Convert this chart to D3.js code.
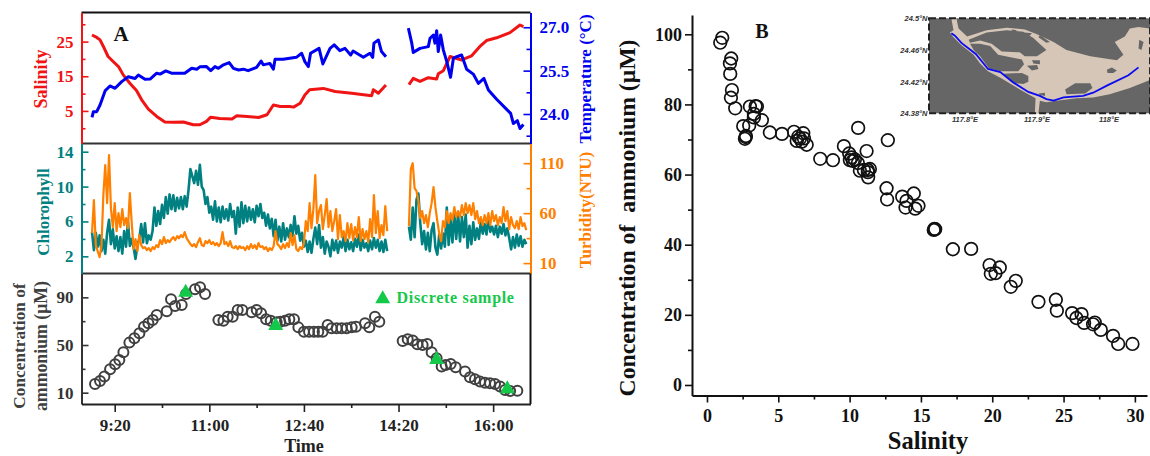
<!DOCTYPE html>
<html>
<head>
<meta charset="utf-8">
<script src="https://cdn.jsdelivr.net/npm/d3@7"></script>
<style>
body { margin: 0; background: #fff; }
text { font-family: "Liberation Serif", serif; font-weight: bold; }
</style>
</head>
<body>
<div class="chart"></div>
<script>
// panel A, minutes since midnight
const salTime = [536,541,544.5,548,553,558.6,564,569,576,583,588.5,595.6,604.4,613,622,632.6,643,650,657,661.5,671,684,689,700,712,721,727.7,735,745,749,756,761,766,780.5,793,810.5,831.6,833.4,838.7,846.7];
const salValue = [26.9,26.2,25.5,23.6,20.7,19.2,17.8,15.4,13,10.9,8.2,5.5,3.4,1.8,1.7,1.8,1,1,2,3.2,2.8,2.7,3.6,3.4,3.1,3.9,6.7,6.3,6.3,6.1,7.2,9.6,11.1,11.5,10.6,10.1,9.4,11.1,10.1,12.5];
const salTime2 = [871,875.6,882.7,891.5,900.3,902,907.4,914.4,926.7,937.3,946,953,963.7,977.8,988.4,992];
const salValue2 = [12.6,14.4,13.5,14.6,14.2,15.7,16.6,20.7,19.7,20.9,23.6,25.3,26.1,27.6,29.8,29.3];

const tempTime = [536,537.5,541,544.5,550,555,560.4,567.4,574.4,581.5,585,592,597.4,604.4,608,614,620,634,641.4,646.7,650,657,661.5,666,669.6,675,681,685.5,691,696,701,710,714.7,717,724,727.7,729.5,738,745,752,757.6,761,764.7,767,776,780,787.6,792,798,803.4,809.4,812,822.8,829.8,832.7,834,838.7,842,846.7];
const tempValue = [23.88,24.08,24.08,24.31,24.81,24.97,24.89,25.12,25.29,25.23,25.35,25.2,25.21,25.41,25.38,25.49,25.41,25.41,25.58,25.55,25.63,25.64,25.5,25.64,25.58,25.7,25.78,25.58,25.52,25.55,25.5,25.61,25.83,25.7,25.75,25.55,25.89,25.89,25.93,25.96,26.1,25.81,25.64,26.1,26.27,25.73,26.27,26.39,26.19,26.27,26.04,26.18,25.96,26.1,25.96,26.45,26.56,26.16,25.98];
const tempTime2 = [870.4,874,875.6,882.7,891.5,893.3,896.8,898.5,900.3,902,904.5,907.4,911,915,918,921.5,926.7,932,939,944.4,950.3,955,963.7,974.3,978.5,981.4,985.6,988.4,992];
const tempValue2 = [26.97,26.45,26.13,26.27,26.33,26.62,26.73,26.45,26.88,26.16,26.73,26.21,25.81,25.27,25.93,25.98,26.04,25.55,25.38,25.06,25.23,24.83,24.51,24.16,24.02,23.67,23.77,23.5,23.64];

// logger readings, one every 2 minutes
const loggerStart = 536;
const loggerStart2 = 871;
const chlValue = [4.8,2.7,4.7,3.1,4.4,2.6,3.9,2.3,4.7,6.2,3.4,5.1,2.9,4.3,2.6,4.2,2.3,4.9,3.1,6,3.2,4,3,1.7,3.3,4,5.7,3.6,5.8,3.5,4.4,3.9,4.9,7.6,5.5,7.2,5.7,7.9,6.4,8.8,6.9,9.1,7.4,9,7.2,8.7,7.5,8.8,7.4,8.9,7.7,9.6,12,11.2,10.4,11.8,10.2,12.5,10,9.6,8,8.8,7,7.7,6.2,8.3,6,7.6,5.9,7.7,6.3,7.4,6.1,8,6.5,7.2,4.6,7.6,5.4,8.2,5.8,7.8,6,7.6,6.2,7.4,5.9,7.8,6.6,8,6.4,7,5.5,6.8,5.2,6.3,4.3,6.2,3.8,5.4,3.7,5.8,3.9,5.2,4.2,5.6,4.3,6.6,4.6,5.5,3.8,4.7,3.1,3.8,2.5,3.7,2.4,4,5.3,3.4,5.6,3,4.2,2.3,3.7,3.1,2,3.9,2.7,3.8,2.4,3.7,3,4.2,2.6,3.9,2.8,3.6,2.6,4,3.1,4.5,2.7,3.9,3,3.5,2.6,3.8,2.8,4.1,3,3.9,2.6,3.7,2.5,3.9,2.6];
const chlValue2 = [5.4,3.9,7.6,4.2,8.5,9.2,5.8,3.4,4.9,2.8,4.7,2.6,5,5.8,3,2.2,4.5,2.9,4.6,3.1,7.6,3.3,6.3,3.6,7,4,6.9,3.7,6.5,4.2,6.8,3,5.5,3.4,5.9,3.9,5.2,4,6,4.6,5.7,4.5,6.4,4.8,5.4,4.5,5.5,4.2,5.4,4.6,5.7,4.4,5.2,4.1,2.8,4.2,3,4.5,3.2,4.3,3.1,3.9,3.4];
const turbValue = [40,73,28,22,16,27,78,108,70,118,65,46,70,42,60,46,64,48,55,45,80,50,24,34,22,38,28,25,26,23,25,22,26,24,28,26,33,29,36,30,33,31,34,36,33,37,35,38,36,41,35,32,29,27,29,26,31,35,28,27,32,30,33,29,31,28,30,27,30,41,29,31,27,32,26,25,27,24,27,25,26,23,27,24,29,25,28,24,30,26,27,24,26,22,25,23,27,42,29,27,24,29,25,30,26,40,28,38,24,22,26,24,30,52,42,70,45,64,98,50,62,68,44,58,74,46,62,42,52,64,34,58,36,42,32,50,35,49,33,46,36,56,32,44,34,42,31,54,36,78,40,62,35,48,38,67,42];
const turbValue2 = [47,104,110,85,82,72,55,62,50,58,46,60,70,86,66,52,40,32,52,46,62,50,60,53,66,56,62,56,68,58,70,60,68,58,70,54,62,50,56,48,58,50,60,48,62,52,58,48,56,50,66,52,62,44,56,48,45,52,44,56,47,50,43];

const ammTime = [539.2,544.5,549.1,555.1,560.4,564.9,569.2,575.5,580.8,586.1,591,595.6,600.2,604.4,615,619.5,623.8,630.8,635.4,644.9,650.2,655.5,669.6,674.9,679.4,684.7,690,694.9,704.8,710.1,714.7,720,724.9,731.2,735,740,744.6,749.5,754.1,760,765.4,770.6,775.2,779.8,785.1,789.3,794.6,799.9,805.2,810.5,815,824.6,829.1,835.1,839.7,864.4,869.7,875,879.9,885.5,890.4,895,900.3,905.6,909.8,915.1,920.4,930.3,935.5,940.8,946.1,951.4,956.7,962,967.3,972.6,978,985.6];
const ammValue = [17.3,19.8,23.5,29.6,33.8,37.4,43.9,52,55.6,59.8,65.4,68.2,71,75.2,78.3,88.3,82.7,83.6,92.8,96.7,98.4,92.8,71,70.4,73.8,73.8,79.4,79.4,77.4,79.4,76.6,71.6,70.4,69,69.6,70.4,71.6,71.6,64.8,61.2,61.2,61.2,61.2,61.2,66.8,64,64,64,64,64.8,65.4,68.2,64.8,73.8,69.6,53.4,54.8,53.7,50.6,50,50.9,43.9,38.8,31.9,33.3,34.1,31.3,27.7,22.9,21.2,19.3,18.4,17.9,17.3,15.1,12.3,11.5,11.7];
const sampleTime = [635,730.2,900.3,975];
const sampleValue = [94.2,66.2,37.7,13.1];

const timeTicks = [560,660,760,860,960];
const timeMinor = [610,710,810,910];

// panel B
const bSalinity = [1.07,0.93,1.7,1.61,1.63,1.75,1.68,1.98,3.01,3.41,3.5,3.29,3.29,3.85,2.54,2.96,2.73,2.66,2.71,4.41,5.26,6.1,6.75,6.4,6.29,6.52,6.8,6.64,6.99,7.94,8.83,9.6,10.6,11.19,9.97,10.14,10.37,10.02,10.23,10.58,10.72,11,11.28,11.42,11.28,11.3,12.59,12.63,13.69,14.5,13.99,13.92,14.6,14.83,12.68,15.9,15.95,16,17.24,18.52,19.81,20.53,19.9,20.23,21.65,21.3,23.24,24.46,24.53,25.6,26.26,25.9,26.44,27.19,27.07,27.61,28.47,28.83,29.83];
const bAmmonium = [99,97.6,93.1,91.7,88.7,84.1,81.9,78.9,79.4,79.5,79.4,77.3,76.3,75.5,73.8,74,71,70.2,70.7,72,71.6,72.2,71.8,70.8,69.6,70.3,70.3,69.4,68.5,64.5,64.1,68.1,73.3,66.7,66,64.9,64.3,64.1,63.9,63.3,61.1,61.3,61.3,61.6,60.7,59.2,56.1,52.9,53.7,54.6,52.5,50.6,50.3,51.1,69.8,44.2,44.5,44.4,38.7,38.8,34.2,33.5,31.7,31.9,29.7,28,23.7,24.3,21.2,20.5,20.2,19.1,17.7,17.8,17.3,15.7,14,11.7,11.7];

// inset map, lon/lat
const bayOutline = [[117.781,24.5],[117.788,24.5],[117.791,24.487],[117.803,24.477],[117.83,24.485],[117.858,24.488],[117.883,24.486],[117.9,24.48],[117.923,24.47],[117.941,24.46],[117.974,24.452],[118.011,24.447],[118.02,24.454],[118.008,24.47],[118.022,24.477],[118.029,24.487],[118.041,24.489],[118.057,24.487],[118.057,24.422],[118.029,24.412],[118.001,24.404],[117.978,24.4],[117.955,24.399],[117.927,24.396],[117.913,24.394],[117.904,24.396],[117.902,24.38],[117.897,24.38],[117.898,24.399],[117.886,24.405],[117.867,24.415],[117.851,24.424],[117.832,24.433],[117.821,24.443],[117.812,24.454],[117.795,24.466],[117.784,24.476],[117.779,24.482],[117.784,24.485]];
const islands = [
  [[117.805,24.473],[117.83,24.482],[117.858,24.485],[117.881,24.483],[117.895,24.475],[117.913,24.46],[117.9,24.452],[117.883,24.452],[117.876,24.457],[117.851,24.458],[117.837,24.468],[117.821,24.472],[117.807,24.469]],
  [[117.807,24.468],[117.821,24.468],[117.835,24.465],[117.846,24.454],[117.879,24.448],[117.882,24.442],[117.874,24.433],[117.849,24.433],[117.833,24.437],[117.821,24.452],[117.812,24.46]],
  [[117.853,24.43],[117.879,24.431],[117.888,24.427],[117.888,24.42],[117.881,24.417],[117.869,24.418]],
  [[117.886,24.44],[117.9,24.441],[117.902,24.436],[117.893,24.434]],
  [[117.893,24.447],[117.904,24.447],[117.904,24.442],[117.895,24.443]],
  [[117.997,24.435],[118.004,24.438],[118.011,24.434],[118.006,24.431],[117.998,24.431]],
  [[117.939,24.41],[117.953,24.418],[117.974,24.418],[117.977,24.412],[117.967,24.405],[117.941,24.404]],
  [[117.902,24.405],[117.911,24.406],[117.911,24.402],[117.904,24.403]],
  [[117.883,24.482],[117.893,24.481],[117.89,24.478],[117.883,24.48]],
  [[117.904,24.479],[117.918,24.47],[117.913,24.469],[117.902,24.476]],
  [[117.865,24.486],[117.872,24.485],[117.871,24.484],[117.865,24.484]],
  [[118.042,24.473],[118.048,24.47],[118.045,24.46],[118.041,24.462]]
];
const routeLon = [117.781,117.786,117.795,117.815,117.832,117.849,117.867,117.888,117.904,117.913,117.923,117.937,117.964,117.978,117.997,118.027,118.041];
const routeLat = [24.481,24.478,24.469,24.455,24.436,24.432,24.419,24.407,24.402,24.398,24.396,24.4,24.402,24.406,24.415,24.428,24.438];
const mapLonTicks = [117.8,117.9,118];
const mapLatTicks = [24.38,24.42,24.46,24.5];

const red = "#f01414", blue = "#0000f0", teal = "#008080", orange = "#ff8000", dark = "#404040", green = "#14c84a";

const width = 1150, height = 456;
const svg = d3.select(".chart").append("svg").attr("width", width).attr("height", height).style("display", "block");

const left = 81.5, right = 530.5;
const x = d3.scaleLinear().domain([524.9, 999.5]).range([left, right]);
const salY = d3.scaleLinear().domain([-4.4, 33.4]).range([143.5, 12.5]);
const tempY = d3.scaleLinear().domain([22.98, 27.51]).range([143.5, 12.5]);
const chlY = d3.scaleLinear().domain([0.03, 14.94]).range([273.5, 143.5]);
const turbY = d3.scaleLinear().domain([-0.4, 129.7]).range([273.5, 143.5]);
const ammY = d3.scaleLinear().domain([0.5, 110]).range([404, 273.5]);
const bX = d3.scaleLinear().domain([-1.05, 30.85]).range([692, 1147]);
const bY = d3.scaleLinear().domain([-3, 105.5]).range([395.5, 15]);

function yAxis(side, scale, xPos, major, minor, color, size, padding, format) {
    const make = side == "left" ? d3.axisLeft : d3.axisRight;
    const g = svg.append("g").attr("transform", `translate(${xPos},0)`);
    g.call(make(scale).tickValues(major).tickSize(-7).tickSizeOuter(0).tickPadding(padding).tickFormat(format || (d => d)));
    g.append("g").call(make(scale).tickValues(minor).tickSize(-4).tickFormat(""))
        .select(".domain").remove();
    g.selectAll("path").attr("stroke", color).attr("stroke-width", 2);
    g.selectAll("line").attr("stroke", color).attr("stroke-width", 1.6);
    g.selectAll("text").attr("fill", color).style("font-family", "Liberation Serif")
        .style("font-weight", "bold").style("font-size", size + "px");
    return g;
}

function rotated(label, xPos, yPos, color, size) {
    svg.append("text").attr("transform", `translate(${xPos},${yPos}) rotate(-90)`)
        .attr("text-anchor", "middle").attr("fill", color).style("font-size", size + "px").text(label);
}

function drawLine(times, values, scale, color, w) {
    const line = d3.line().x(d => x(d[0])).y(d => scale(d[1]));
    svg.append("path").datum(times.map((t, i) => [t, values[i]])).attr("d", line)
        .attr("fill", "none").attr("stroke", color).attr("stroke-width", w).attr("stroke-linejoin", "round");
}

const logTimes = (start, vals) => vals.map((v, i) => start + i * 2);

// panel frames
[12.5, 143.5, 273.5].forEach((y0, i) => {
    svg.append("line").attr("x1", left).attr("x2", right).attr("y1", y0).attr("y2", y0)
        .attr("stroke", i == 0 ? "#111" : "#333").attr("stroke-width", 2);
});

drawLine(salTime, salValue, salY, red, 3);
drawLine(salTime2, salValue2, salY, red, 3);
drawLine(tempTime, tempValue, tempY, blue, 3);
drawLine(tempTime2, tempValue2, tempY, blue, 3);
drawLine(logTimes(loggerStart, chlValue), chlValue, chlY, teal, 2.6);
drawLine(logTimes(loggerStart2, chlValue2), chlValue2, chlY, teal, 2.6);
drawLine(logTimes(loggerStart, turbValue), turbValue, turbY, orange, 2.2);
drawLine(logTimes(loggerStart2, turbValue2), turbValue2, turbY, orange, 2.2);

yAxis("left", salY, left, [5, 15, 25], [0, 10, 20, 30], red, 17, 8);
yAxis("right", tempY, right, [24, 25.5, 27], [23.25, 24.75, 26.25], blue, 17, 9, d => d.toFixed(1));
yAxis("left", chlY, left, [2, 6, 10, 14], [4, 8, 12], teal, 17, 8);
yAxis("right", turbY, right, [10, 60, 110], [35, 85], orange, 17, 9);
yAxis("left", ammY, left, [10, 50, 90], [30, 70], "#333", 17, 8);
svg.append("line").attr("x1", right).attr("x2", right).attr("y1", 273.5).attr("y2", 404).attr("stroke", "#111").attr("stroke-width", 2);

// ammonium against time
svg.append("g").selectAll("circle").data(ammTime).enter().append("circle")
    .attr("cx", d => x(d)).attr("cy", (d, i) => ammY(ammValue[i])).attr("r", 5)
    .attr("fill", "none").attr("stroke", dark).attr("stroke-width", 2);

const triangle = d3.symbol().type(d3.symbolTriangle).size(97);
svg.append("g").selectAll("path").data(sampleTime).enter().append("path").attr("d", triangle)
    .attr("transform", (d, i) => `translate(${x(d)},${ammY(sampleValue[i])})`).attr("fill", green);
svg.append("path").attr("d", triangle).attr("transform", "translate(382.7,299)").attr("fill", green);
svg.append("text").attr("x", 396.5).attr("y", 303).attr("fill", green).style("font-size", "16px")
    .style("letter-spacing", "0.7px").text("Discrete sample");

const timeLabel = m => Math.floor(m / 60) + ":" + d3.format("02")(m % 60);
const timeAxis = svg.append("g").attr("transform", "translate(0,404)");
timeAxis.call(d3.axisBottom(x).tickValues(timeTicks).tickSize(8).tickSizeOuter(0).tickPadding(7).tickFormat(timeLabel));
timeAxis.append("g").call(d3.axisBottom(x).tickValues(timeMinor).tickSize(4).tickFormat("")).select(".domain").remove();
timeAxis.selectAll("path").attr("stroke", "#222").attr("stroke-width", 2);
timeAxis.selectAll("line").attr("stroke", "#222").attr("stroke-width", 1.6);
timeAxis.selectAll("text").attr("fill", "#222").style("font-family", "Liberation Serif")
    .style("font-weight", "bold").style("font-size", "17px");

svg.append("text").attr("x", 304).attr("y", 451.5).attr("text-anchor", "middle").attr("fill", "#222").style("font-size", "18px").text("Time");
svg.append("text").attr("x", 121).attr("y", 41).attr("text-anchor", "middle").attr("fill", "#111").style("font-size", "21px").text("A");

rotated("Salinity", 47, 79, red, 18);
rotated("Chlorophyll", 49, 212, teal, 17);
rotated("Temperature (°C)", 591, 79, blue, 17);
rotated("Turbidity(NTU)", 591, 210, orange, 17);
rotated("Concentration of", 25, 346, dark, 17.3);
rotated("ammonium (μM)", 47, 346, dark, 17.8);

// panel B
const bBottom = svg.append("g").attr("transform", "translate(0,395.5)");
bBottom.call(d3.axisBottom(bX).tickValues([0, 5, 10, 15, 20, 25, 30]).tickSize(7).tickSizeOuter(0).tickPadding(7));
bBottom.append("g").call(d3.axisBottom(bX).tickValues([2.5, 7.5, 12.5, 17.5, 22.5, 27.5]).tickSize(4).tickFormat("")).select(".domain").remove();
const bLeft = svg.append("g").attr("transform", "translate(692,0)");
bLeft.call(d3.axisLeft(bY).tickValues([0, 20, 40, 60, 80, 100]).tickSize(7).tickSizeOuter(0).tickPadding(3));
bLeft.append("g").call(d3.axisLeft(bY).tickValues([10, 30, 50, 70, 90]).tickSize(4).tickFormat("")).select(".domain").remove();
[bBottom, bLeft].forEach(g => {
    g.selectAll("path").attr("stroke", "#111").attr("stroke-width", 2);
    g.selectAll("line").attr("stroke", "#111").attr("stroke-width", 1.6);
    g.selectAll("text").attr("fill", "#111").style("font-family", "Liberation Serif")
        .style("font-weight", "bold").style("font-size", "18px");
});

svg.append("g").selectAll("circle").data(bSalinity).enter().append("circle")
    .attr("cx", d => bX(d)).attr("cy", (d, i) => bY(bAmmonium[i])).attr("r", 6.3)
    .attr("fill", "none").attr("stroke", "#111").attr("stroke-width", 1.7);

svg.append("text").attr("x", 928).attr("y", 449).attr("text-anchor", "middle").attr("fill", "#111").style("font-size", "24.5px").text("Salinity");
rotated("Concentration of\u00a0 ammonium (μM)", 635, 218, "#111", 23.7);
svg.append("text").attr("x", 762).attr("y", 38).attr("text-anchor", "middle").attr("fill", "#111").style("font-size", "20px").text("B");

// inset map
const mapX = d3.scaleLinear().domain([117.8, 118]).range([965, 1109]);
const mapY = d3.scaleLinear().domain([24.38, 24.5]).range([113.3, 18.3]);
const mapLine = d3.line().x(d => mapX(d[0])).y(d => mapY(d[1]));
const mapLeft = mapX(117.75), mapRight = mapX(118.057);
svg.append("rect").attr("x", mapLeft).attr("y", mapY(24.5)).attr("width", mapRight - mapLeft).attr("height", mapY(24.38) - mapY(24.5)).attr("fill", "#666");
svg.append("path").attr("d", mapLine(bayOutline) + "Z").attr("fill", "#d6c6b8");
svg.append("g").selectAll("path").data(islands).enter().append("path").attr("d", d => mapLine(d) + "Z").attr("fill", "#666");
svg.append("path").attr("d", mapLine(routeLon.map((d, i) => [d, routeLat[i]]))).attr("fill", "none").attr("stroke", "#0a0af0").attr("stroke-width", 1.8);
svg.append("rect").attr("x", mapLeft).attr("y", mapY(24.5)).attr("width", mapRight - mapLeft).attr("height", mapY(24.38) - mapY(24.5))
    .attr("fill", "none").attr("stroke", "#222").attr("stroke-width", 2).attr("stroke-dasharray", "7 3");

svg.append("g").selectAll("text").data(mapLatTicks).enter().append("text")
    .attr("x", mapLeft - 1.5).attr("y", d => mapY(d) + 3).attr("text-anchor", "end").attr("fill", "#333")
    .style("font-family", "Liberation Sans").style("font-style", "italic").style("font-size", "7.5px")
    .text(d => d + "°N");
svg.append("g").selectAll("text").data(mapLonTicks).enter().append("text")
    .attr("x", d => mapX(d)).attr("y", 122).attr("text-anchor", "middle").attr("fill", "#333")
    .style("font-family", "Liberation Sans").style("font-style", "italic").style("font-size", "7.5px")
    .text(d => d + "°E");
</script>
</body>
</html>
